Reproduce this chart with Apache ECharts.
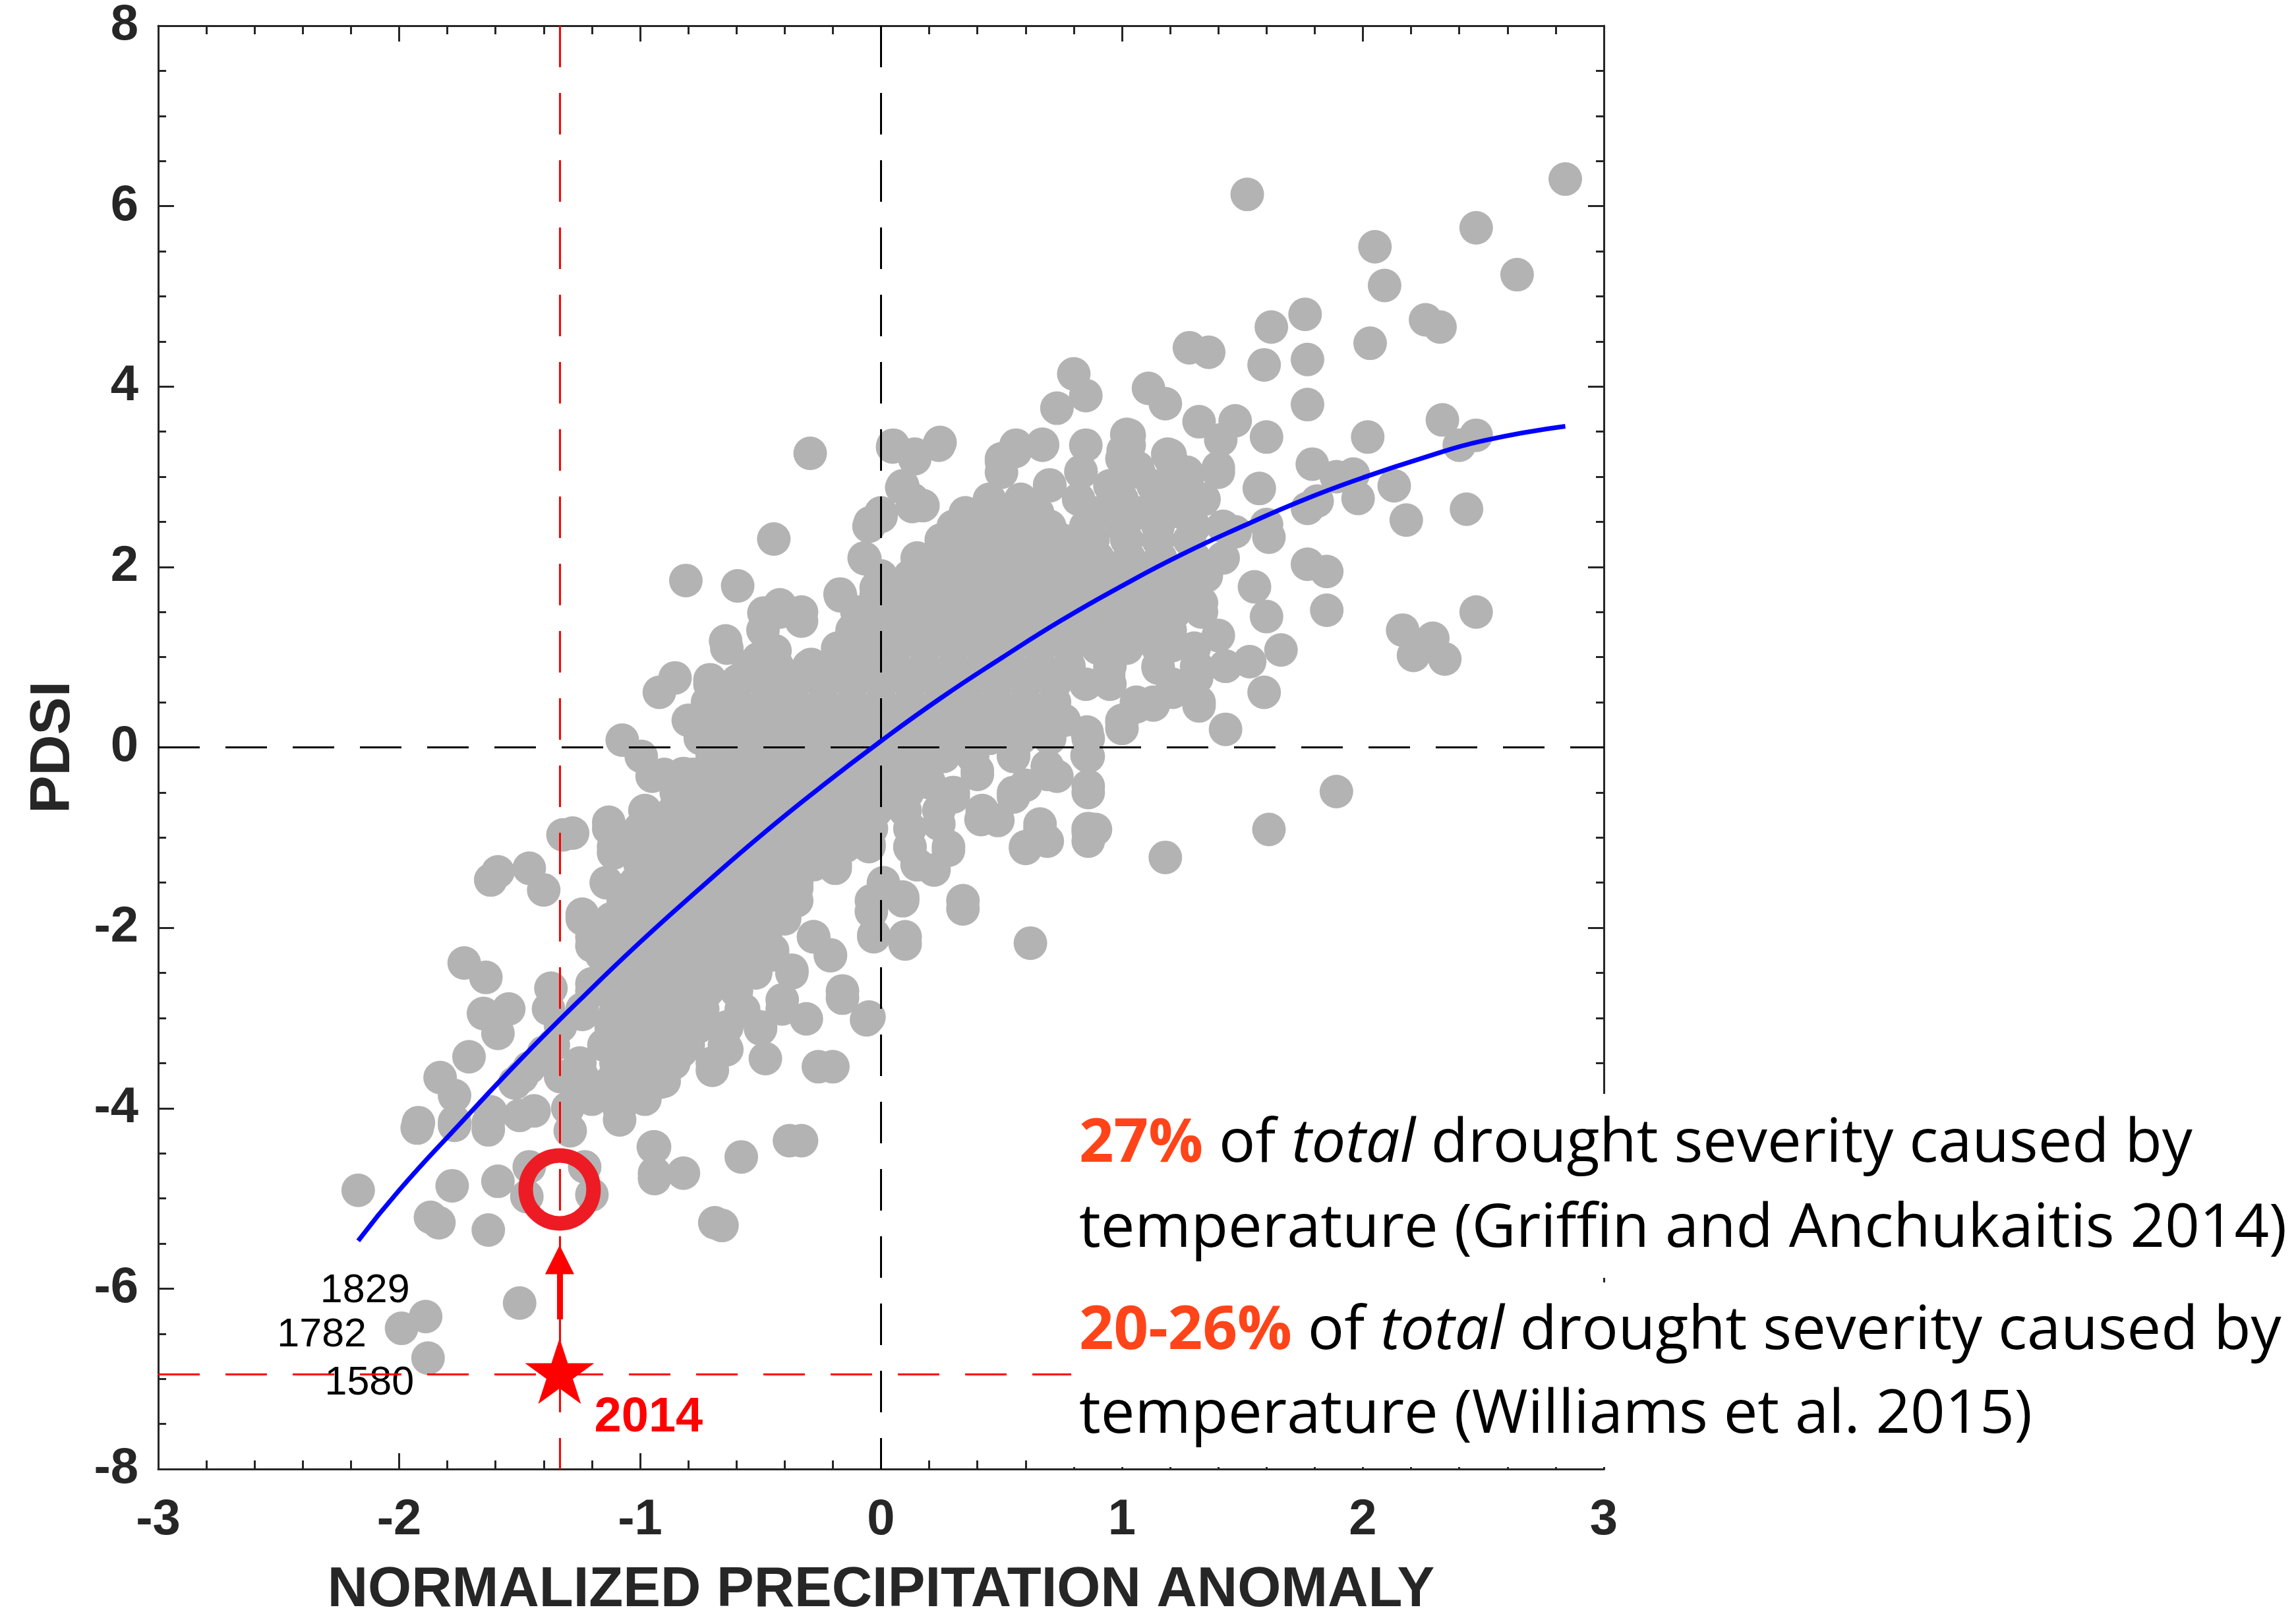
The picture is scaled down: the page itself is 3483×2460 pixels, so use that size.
<!DOCTYPE html>
<html>
<head>
<meta charset="utf-8">
<script src="https://cdn.jsdelivr.net/npm/echarts@6/dist/echarts.min.js"></script>
<style>
  html, body { margin: 0; padding: 0; background: #ffffff; }
  #chart { width: 3483px; height: 2460px; }
</style>
</head>
<body>
<div id="chart"></div>
<script>
// Axis ranges and titles
const xRange = [-3, 3];
const yRange = [-8, 8];
const xTitle = 'NORMALIZED PRECIPITATION ANOMALY';
const yTitle = 'PDSI';

// Dense middle of the cloud, read row by row (PDSI of each row, then the anomalies on that row)
const coreRowPdsi = [3.35, 3.2, 3.05, 2.9, 2.75, 2.6, 2.45, 2.3, 2.1, 1.9, 1.7, 1.5, 1.3, 1.1, 0.9, 0.7, 0.5, 0.3, 0.1,
  -0.1, -0.3, -0.5, -0.7, -0.9, -1.1, -1.3, -1.5, -1.7, -1.9, -2.1, -2.3, -2.5, -2.7, -2.9, -3.1, -3.3, -3.5, -3.7, -3.9];
const coreRowAnomaly = [
  [0.05, 0.24, 0.56, 0.67, 0.85, 1.03],
  [0.14, 0.5, 1.0, 1.2],
  [0.5, 0.83, 1.07, 1.27, 1.4],
  [0.09, 0.7, 0.95, 1.13],
  [0.13, 0.45, 0.58, 0.82, 1.0, 1.2, 1.34],
  [0.0, 0.35, 0.5, 0.65, 0.9, 1.08, 1.25],
  [-0.05, 0.3, 0.42, 0.55, 0.7, 0.85, 1.0, 1.15, 1.3, 1.42],
  [0.25, 0.38, 0.5, 0.62, 0.75, 0.88, 1.02, 1.15, 1.28],
  [-0.07, 0.15, 0.28, 0.4, 0.52, 0.65, 0.78, 0.9, 1.03, 1.16, 1.3, 1.42],
  [0.0, 0.12, 0.22, 0.35, 0.48, 0.6, 0.73, 0.85, 0.98, 1.1, 1.22, 1.35],
  [-0.17, -0.02, 0.06, 0.18, 0.3, 0.42, 0.55, 0.68, 0.8, 0.92, 1.05, 1.18, 1.3],
  [-0.42, -0.33, -0.1, 0.02, 0.14, 0.26, 0.38, 0.5, 0.62, 0.74, 0.86, 0.98, 1.1, 1.22, 1.33],
  [-0.49, -0.12, 0.0, 0.12, 0.24, 0.36, 0.48, 0.6, 0.72, 0.84, 0.96, 1.08, 1.2],
  [-0.64, -0.47, -0.18, -0.06, 0.06, 0.18, 0.3, 0.42, 0.54, 0.66, 0.78, 0.9, 1.02, 1.15, 1.3],
  [-0.55, -0.43, -0.3, -0.18, -0.06, 0.06, 0.18, 0.3, 0.42, 0.54, 0.66, 0.78, 0.95, 1.15, 1.31, 1.43],
  [-0.71, -0.6, -0.48, -0.36, -0.24, -0.12, 0.0, 0.12, 0.24, 0.36, 0.48, 0.6, 0.72, 0.85, 0.95, 1.21],
  [-0.72, -0.6, -0.48, -0.36, -0.24, -0.12, 0.0, 0.12, 0.24, 0.36, 0.48, 0.6, 0.72, 1.06, 1.13, 1.32],
  [-0.8, -0.68, -0.56, -0.44, -0.32, -0.2, -0.08, 0.04, 0.16, 0.28, 0.4, 0.52, 0.64, 0.76, 1.0],
  [-0.75, -0.63, -0.51, -0.39, -0.27, -0.15, -0.03, 0.09, 0.21, 0.33, 0.45, 0.58, 0.7, 0.86],
  [-0.7, -0.58, -0.46, -0.34, -0.22, -0.1, 0.02, 0.14, 0.26, 0.38, 0.55, 0.86],
  [-0.9, -0.78, -0.66, -0.54, -0.42, -0.3, -0.18, -0.06, 0.06, 0.18, 0.4, 0.69],
  [-0.85, -0.73, -0.61, -0.49, -0.37, -0.25, -0.13, -0.01, 0.11, 0.3, 0.55, 0.86],
  [-0.98, -0.86, -0.74, -0.62, -0.5, -0.38, -0.26, -0.14, -0.02, 0.1, 0.24, 0.42],
  [-1.13, -1.0, -0.88, -0.76, -0.64, -0.52, -0.4, -0.28, -0.16, -0.04, 0.12, 0.66, 0.86],
  [-1.11, -0.99, -0.87, -0.75, -0.63, -0.51, -0.39, -0.27, -0.15, -0.05, 0.12, 0.28, 0.6],
  [-1.0, -0.88, -0.76, -0.64, -0.52, -0.4, -0.28, -0.19, 0.15],
  [-1.14, -1.02, -0.9, -0.78, -0.66, -0.54, -0.42, -0.35, 0.01],
  [-1.07, -0.95, -0.83, -0.71, -0.59, -0.47, -0.35, -0.04, 0.09, 0.34],
  [-1.24, -1.12, -1.0, -0.88, -0.76, -0.64, -0.52, -0.4],
  [-1.2, -1.08, -0.96, -0.84, -0.72, -0.6, -0.48, -0.28, -0.03, 0.1],
  [-1.16, -1.04, -0.92, -0.8, -0.68, -0.56, -0.45, -0.21],
  [-1.12, -1.0, -0.88, -0.76, -0.64, -0.52, -0.37],
  [-1.2, -1.08, -0.96, -0.84, -0.72, -0.6, -0.16],
  [-1.24, -1.1, -0.98, -0.86, -0.74, -0.58, -0.41],
  [-1.12, -1.0, -0.88, -0.76, -0.64, -0.5],
  [-1.15, -1.03, -0.91, -0.8, -0.65],
  [-1.25, -1.1, -0.98, -0.86, -0.7],
  [-1.24, -1.12, -0.99, -0.9],
  [-1.2, -1.08, -0.98]
];

// Wetter years around the upper and right edges of the cloud [anomaly, PDSI]
const wetYears = [
  [2.84, 6.30], [1.52, 6.13], [2.47, 5.76], [2.05, 5.55], [2.09, 5.12], [2.64, 5.24], [2.26, 4.74], [2.32, 4.66],
  [1.76, 4.80], [1.62, 4.66], [2.03, 4.48], [1.59, 4.24], [1.77, 4.30], [1.28, 4.43], [1.36, 4.38], [1.11, 3.98],
  [1.18, 3.81], [0.80, 4.14], [0.85, 3.90], [0.73, 3.76], [1.77, 3.80], [1.47, 3.62], [1.32, 3.61], [1.41, 3.41],
  [1.60, 3.44], [1.40, 3.10], [2.33, 3.63], [2.47, 3.46], [2.40, 3.35], [2.02, 3.44], [2.43, 2.64], [1.79, 3.14],
  [1.89, 3.00], [1.96, 3.03], [2.13, 2.90], [1.98, 2.76], [1.77, 2.65], [1.81, 2.73], [2.18, 2.52], [1.57, 2.87],
  [1.60, 2.47], [1.61, 2.33], [1.47, 2.39], [1.77, 2.03], [1.85, 1.95], [1.55, 1.78], [1.85, 1.52], [1.60, 1.45],
  [1.66, 1.08], [1.53, 0.95], [1.59, 0.61], [1.43, 0.20], [1.43, 0.90], [1.31, 0.77], [1.32, 0.46], [1.40, 1.24],
  [1.33, 1.60], [1.21, 1.13], [1.15, 0.88], [1.21, 0.61], [1.13, 0.47], [1.06, 0.45], [1.00, 0.28], [0.945, 0.80],
  [2.165, 1.30], [2.21, 1.02], [2.29, 1.21], [2.34, 0.98], [2.47, 1.50], [1.89, -0.49], [1.61, -0.91], [1.18, -1.22],
  [1.02, 3.47], [1.19, 3.25], [1.24, 3.07], [1.27, 2.96], [1.34, 2.75], [1.20, 3.24], [1.065, 3.10], [1.005, 3.29],
  [1.03, 3.46], [0.83, 3.06], [0.70, 2.91], [0.58, 2.72], [0.45, 2.61], [0.37, 2.42], [0.67, 3.36], [0.557, 3.28],
  [0.50, 3.17], [0.245, 3.38], [0.14, 3.25], [0.048, 3.33], [0.086, 2.88], [0.13, 2.67], [0.0, 2.56], [-0.045, 2.49],
  [-0.067, 2.09], [0.174, 2.68],
  [-0.294, 3.26], [-0.445, 2.31], [-0.81, 1.85], [-0.595, 1.79], [-0.645, 1.18], [-0.855, 0.77], [-0.92, 0.61],
  [-1.074, 0.08], [-0.995, -0.10], [-0.95, -0.32], [-0.82, -0.29], [-0.168, 1.68], [-0.02, 1.77], [0.06, 1.69],
  [0.22, 1.88], [-0.42, 1.58], [-0.486, 1.49], [-0.33, 1.40], [-0.037, 1.41], [0.15, 1.23], [-0.44, 1.07],
  [-0.51, 0.98], [-0.12, 1.13], [-0.29, 0.92], [-0.71, 0.75], [-0.595, 0.74], [-0.72, 0.48], [-0.41, 0.66],
  [-0.75, 0.13], [-0.70, -0.09], [-0.56, 0.04],
  [1.00, 0.21], [0.855, 0.17], [0.675, 0.23], [0.55, 0.23], [0.855, -0.09], [0.55, -0.09], [0.69, -0.21],
  [0.73, -0.32], [0.86, -0.43], [0.40, -0.26], [0.55, -0.55], [0.60, -0.42], [0.415, -0.80], [0.485, -0.81],
  [0.66, -0.85], [0.60, -1.12], [0.69, -1.04], [0.86, -0.94], [0.89, -0.91], [0.86, -1.04], [0.62, -2.17],
  [0.34, -1.79], [0.10, -2.18], [0.09, -1.66], [0.01, -1.55], [-0.03, -2.08], [-0.04, -1.82], [0.22, -1.36],
  [0.15, -1.30], [0.28, -1.14], [0.12, -1.11], [0.24, -0.85], [0.30, -0.55], [0.20, -0.39]
];

// Drier years along the lower and left edges of the cloud [anomaly, PDSI]
const dryYears = [
  [-1.62, -1.47], [-1.59, -1.38], [-1.46, -1.34], [-1.40, -1.58], [-1.32, -0.97], [-1.28, -0.95], [-1.13, -0.83],
  [-1.11, -1.17], [-1.14, -1.50], [-1.24, -1.85], [-1.20, -2.20], [-1.07, -1.76], [-1.0, -1.28], [-0.95, -1.72],
  [-1.73, -2.39], [-1.64, -2.55], [-1.545, -2.90], [-1.65, -2.95], [-1.59, -3.17], [-1.71, -3.43], [-1.83, -3.66],
  [-1.77, -3.86], [-1.92, -4.16], [-1.77, -4.15], [-1.63, -4.16], [-1.50, -4.08], [-1.44, -4.03], [-1.37, -2.67],
  [-1.33, -3.09], [-1.20, -2.62], [-1.24, -2.96], [-1.12, -3.04], [-1.10, -3.19], [-1.24, -3.65], [-1.24, -3.81],
  [-1.33, -3.65], [-1.49, -3.65], [-1.40, -3.38], [-1.29, -4.25], [-1.30, -4.0], [-1.085, -4.02], [-0.94, -4.43],
  [-0.82, -4.72], [-0.94, -4.72], [-0.70, -3.58], [-0.48, -3.45], [-0.64, -3.35], [-0.57, -2.91], [-0.50, -3.12],
  [-0.98, -3.78], [-0.915, -3.71], [-1.09, -3.52], [-0.83, -3.37], [-0.94, -2.90], [-0.955, -2.60], [-0.84, -3.08],
  [-0.735, -3.06], [-0.41, -2.80], [-0.45, -2.25], [-1.38, -2.90], [-1.36, -3.30], [-1.46, -3.55], [-1.52, -3.72],
  [-1.62, -4.04],
  [-2.17, -4.91], [-1.925, -4.22], [-1.77, -4.19], [-1.63, -4.24], [-1.085, -4.13], [-1.78, -4.86], [-1.87, -5.21],
  [-1.835, -5.27], [-1.59, -4.81], [-1.63, -5.35], [-1.46, -4.65], [-1.47, -4.98], [-1.23, -4.65], [-1.20, -4.96],
  [-1.50, -6.16], [-0.945, -4.43], [-0.94, -4.78], [-0.58, -4.54], [-0.69, -5.27], [-0.66, -5.30], [-0.38, -4.36],
  [-0.33, -4.36], [-0.26, -3.54], [-0.20, -3.54], [-0.05, -2.99], [-0.31, -3.01], [-0.16, -2.78], [-0.37, -2.47],
  [-0.21, -2.31], [-0.28, -2.10], [-0.35, -1.56], [-0.19, -1.34], [-0.29, -1.04], [-0.05, -1.07], [-0.06, -3.02]
];

// Driest years that carry a name
const namedYears = ['1829', '1782', '1580'];
const namedYearAnomaly = [-1.89, -1.99, -1.88];
const namedYearPdsi = [-6.31, -6.44, -6.77];

// Fitted curve through the cloud
const fitAnomaly = [-2.17, -2.0, -1.75, -1.5, -1.25, -1.0, -0.75, -0.5, -0.25, 0, 0.25, 0.5, 0.75, 1.0, 1.25, 1.5, 1.75, 2.0, 2.25, 2.5, 2.84];
const fitPdsi = [-5.47, -4.91, -4.18, -3.47, -2.80, -2.16, -1.56, -0.98, -0.44, 0.07, 0.55, 0.99, 1.41, 1.79, 2.14, 2.45, 2.74, 2.99, 3.21, 3.40, 3.56];

// 2014: observed and without the warming contribution
const year2014Label = '2014';
const anomaly2014 = -1.334;
const pdsi2014 = -6.95;
const pdsi2014NoWarming = -4.90;
const arrowPdsi = [-6.34, -5.68];

// Notes on the right
const notes = [
  ['{pct|27%} of {it|total} drought severity caused by', 'temperature (Griffin and Anchukaitis 2014)'],
  ['{pct|20-26%} of {it|total} drought severity caused by', 'temperature (Williams et al. 2015)']
];

// ---- build the chart ----
const scatterPoints = [];
coreRowPdsi.forEach((p, i) => coreRowAnomaly[i].forEach(a => scatterPoints.push([a, p])));
wetYears.forEach(d => scatterPoints.push(d));
dryYears.forEach(d => scatterPoints.push(d));

const yearLabelOffset = { '1829': [-92, -39], '1782': [-121, 11], '1580': [-89, 38] };
const namedPoints = namedYears.map((y, i) => ({
  value: [namedYearAnomaly[i], namedYearPdsi[i]],
  label: { show: true, formatter: y, offset: yearLabelOffset[y] }
}));

const fitLine = fitAnomaly.map((a, i) => [a, fitPdsi[i]]);

const AX = '#262626';
const GREY = '#b3b3b3';
const labelFont = "'Liberation Sans', Arial, sans-serif";
const noteFont = "'Open Sans', 'Noto Sans', sans-serif";
const DASH = [63, 39];

function frameAxis(extra) {
  return Object.assign({
    type: 'value',
    gridIndex: 0,
    splitLine: { show: false },
    axisLine: { show: true, onZero: false, lineStyle: { color: AX, width: 3 } },
    axisTick: { show: true, inside: true, length: 24, lineStyle: { color: AX, width: 3 } },
    minorTick: { show: true, length: 13, lineStyle: { color: AX, width: 3 } },
    axisLabel: { show: false }
  }, extra);
}

const star = 'path://M50,0L61.23,34.55L97.55,34.55L68.17,55.9L79.39,90.45L50,69.1L20.61,90.45L31.83,55.9L2.45,34.55L38.77,34.55Z';

const chart = echarts.init(document.getElementById('chart'), null, { renderer: 'canvas' });

const noteSize = 92;
const noteBaselines = [[1766, 1895], [2050, 2177]];
const noteGraphics = [
  { type: 'rect', z: 100, shape: { x: 1625, y: 1659, width: 1858, height: 279 }, style: { fill: '#ffffff' } },
  { type: 'rect', z: 100, shape: { x: 1625, y: 1945, width: 1858, height: 280 }, style: { fill: '#ffffff' } }
];
notes.forEach((lines, b) => {
  lines.forEach((t, l) => {
    noteGraphics.push({
      type: 'text', z: 101,
      x: 1637, y: noteBaselines[b][l] - 0.33 * noteSize,
      style: {
        text: t,
        fontFamily: noteFont, fontSize: noteSize, fill: '#000000',
        verticalAlign: 'middle', align: 'left',
        rich: {
          pct: { fontFamily: noteFont, fontSize: noteSize, fontWeight: 'bold', fill: '#ff4419' },
          it: { fontFamily: noteFont, fontSize: noteSize, fontStyle: 'italic', fill: '#000000' }
        }
      }
    });
  });
});

chart.setOption({
  animation: false,
  backgroundColor: '#ffffff',
  grid: { left: 240, top: 39, width: 2193, height: 2194, containLabel: false },
  xAxis: [
    frameAxis({
      position: 'bottom', min: xRange[0], max: xRange[1], interval: 1,
      minorTick: { show: true, splitNumber: 5, length: 13, lineStyle: { color: AX, width: 3 } },
      axisLabel: { show: true, margin: 40, fontSize: 76, fontWeight: 'bold', fontFamily: labelFont, color: AX },
      name: xTitle, nameLocation: 'middle', nameGap: 142, nameMoveOverlap: false,
      nameTextStyle: { fontSize: 85, fontWeight: 'bold', fontFamily: labelFont, color: AX }
    }),
    frameAxis({
      position: 'top', min: xRange[0], max: xRange[1], interval: 1,
      minorTick: { show: true, splitNumber: 5, length: 13, lineStyle: { color: AX, width: 3 } }
    })
  ],
  yAxis: [
    frameAxis({
      position: 'left', min: yRange[0], max: yRange[1], interval: 2,
      minorTick: { show: true, splitNumber: 4, length: 12, lineStyle: { color: AX, width: 3 } },
      axisLabel: { show: true, margin: 30, fontSize: 76, fontWeight: 'bold', fontFamily: labelFont, color: AX },
      name: yTitle, nameLocation: 'middle', nameGap: 116, nameRotate: 90, nameMoveOverlap: false,
      nameTextStyle: { fontSize: 86, fontWeight: 'bold', fontFamily: labelFont, color: AX }
    }),
    frameAxis({
      position: 'right', min: yRange[0], max: yRange[1], interval: 2,
      minorTick: { show: true, splitNumber: 4, length: 12, lineStyle: { color: AX, width: 3 } }
    })
  ],
  series: [
    {
      type: 'scatter', name: 'years', z: 2, silent: true,
      symbol: 'circle', symbolSize: 51,
      itemStyle: { color: GREY, opacity: 1 },
      data: scatterPoints
    },
    {
      type: 'scatter', name: 'named years', z: 2, silent: true,
      symbol: 'circle', symbolSize: 51,
      itemStyle: { color: GREY, opacity: 1 },
      label: { position: 'inside', align: 'center', verticalAlign: 'middle', fontSize: 61,
               fontFamily: "'Liberation Sans Narrow', 'Arial Narrow', 'Liberation Sans', sans-serif", color: '#000000' },
      data: namedPoints
    },
    {
      type: 'lines', name: 'zero lines', coordinateSystem: 'cartesian2d', z: 3, silent: true,
      lineStyle: { color: '#000000', width: 3, type: DASH, opacity: 1 },
      data: [
        { coords: [[0, yRange[1]], [0, yRange[0]]] },
        { coords: [[xRange[0], 0], [xRange[1], 0]] }
      ]
    },
    {
      type: 'lines', name: '2014 guides', coordinateSystem: 'cartesian2d', z: 3, silent: true,
      lineStyle: { color: '#ff0000', width: 3, type: DASH, opacity: 1 },
      data: [
        { coords: [[anomaly2014, yRange[1]], [anomaly2014, yRange[0]]] },
        { coords: [[xRange[0], pdsi2014], [xRange[1], pdsi2014]] }
      ]
    },
    {
      type: 'line', name: 'fit', z: 4, silent: true,
      smooth: true, symbol: 'none',
      lineStyle: { color: '#0000ff', width: 7 },
      data: fitLine
    },
    {
      type: 'lines', name: 'warming effect', coordinateSystem: 'cartesian2d', z: 5, silent: true,
      symbol: ['none', 'triangle'], symbolSize: 44,
      lineStyle: { color: '#ff0000', width: 9, opacity: 1 },
      itemStyle: { color: '#ff0000', opacity: 1 },
      data: [{ coords: [[anomaly2014, arrowPdsi[0]], [anomaly2014, arrowPdsi[1]]] }]
    },
    {
      type: 'scatter', name: '2014 without warming', z: 5, silent: true,
      symbol: 'circle', symbolSize: 103,
      itemStyle: { color: 'rgba(0,0,0,0)', borderColor: '#ed1c24', borderWidth: 22, opacity: 1 },
      data: [[anomaly2014, pdsi2014NoWarming]]
    },
    {
      type: 'scatter', name: '2014', z: 6, silent: true,
      symbol: star, symbolSize: 105, symbolKeepAspect: true, symbolOffset: [0, -5],
      itemStyle: { color: '#ff0000', opacity: 1 },
      label: { show: true, formatter: year2014Label, position: 'inside', offset: [135, 71],
               fontSize: 74, fontWeight: 'bold', fontFamily: labelFont, color: '#ff0000' },
      data: [[anomaly2014, pdsi2014]]
    }
  ],
  graphic: noteGraphics
});
</script>
</body>
</html>
